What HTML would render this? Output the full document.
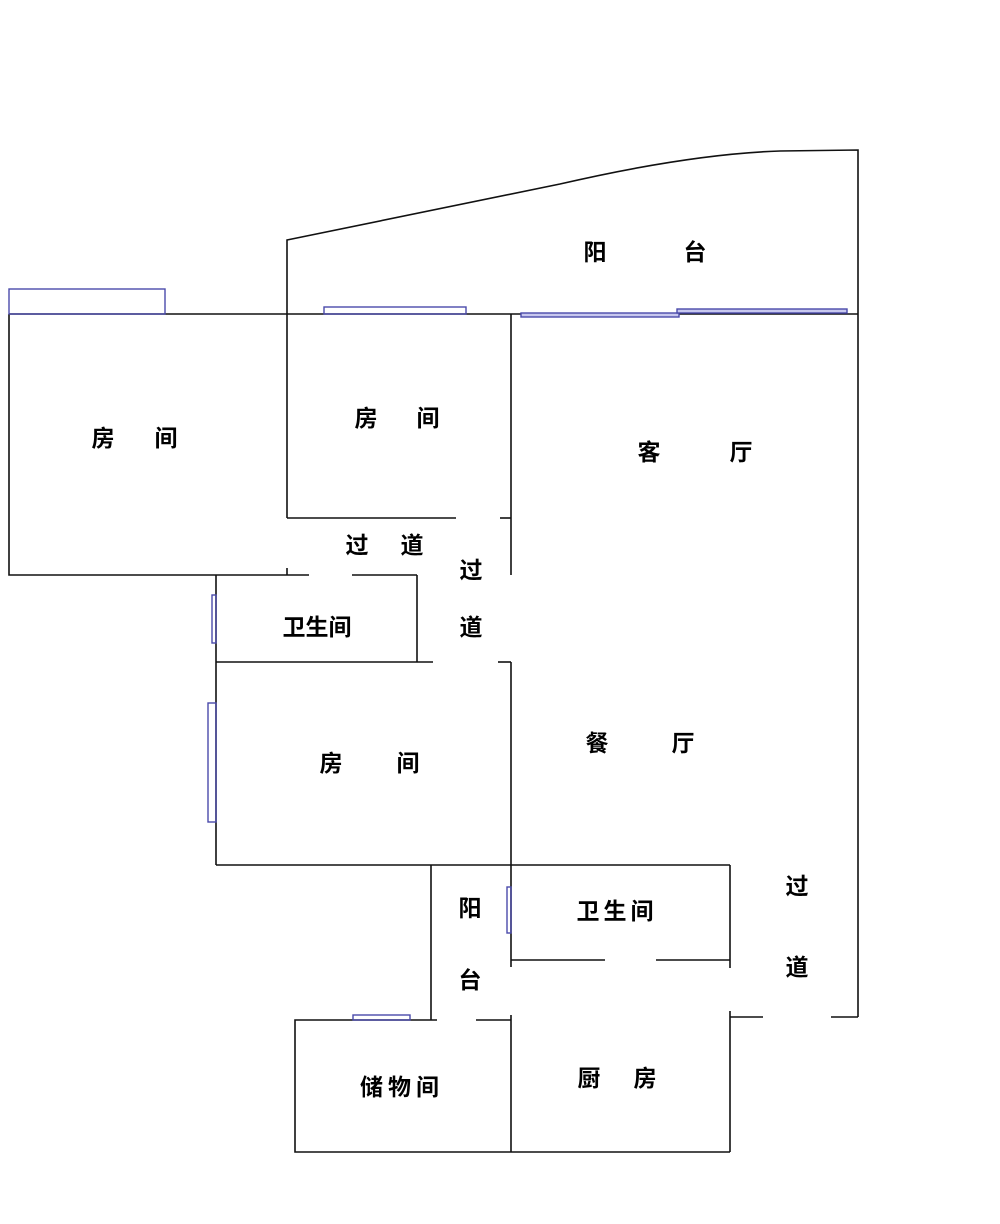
<!DOCTYPE html>
<html><head><meta charset="utf-8"><style>
html,body{margin:0;padding:0;background:#fff;}
svg{display:block}
text{font-family:"Liberation Sans","Noto Sans CJK SC",sans-serif;font-weight:bold;font-size:23px;fill:#000;text-anchor:middle;dominant-baseline:central}
</style></head><body>
<svg width="1000" height="1224" viewBox="0 0 1000 1224" xmlns="http://www.w3.org/2000/svg">
<g stroke="#111" stroke-width="1.6" fill="none">
<!-- top balcony -->
<path d="M287,314 L287,240 L560,184 Q690,154 780,151 L858,150 L858,1017"/>
<line x1="9" y1="314" x2="858" y2="314"/>
<!-- left room -->
<polyline points="9,314 9,575 309,575"/>
<line x1="287" y1="314" x2="287" y2="518"/>
<line x1="287" y1="568" x2="287" y2="575"/>
<!-- corridor -->
<line x1="287" y1="518" x2="456" y2="518"/>
<line x1="500" y1="518" x2="511" y2="518"/>
<line x1="511" y1="314" x2="511" y2="575"/>
<!-- bath 1 -->
<line x1="352" y1="575" x2="417" y2="575"/>
<line x1="216" y1="575" x2="216" y2="865"/>
<line x1="417" y1="575" x2="417" y2="662"/>
<line x1="216" y1="662" x2="433" y2="662"/>
<line x1="498" y1="662" x2="511" y2="662"/>
<line x1="511" y1="662" x2="511" y2="967"/>
<!-- room3 bottom -->
<line x1="216" y1="865" x2="730" y2="865"/>
<!-- small balcony -->
<line x1="431" y1="865" x2="431" y2="1020"/>
<!-- bath 2 -->
<line x1="730" y1="865" x2="730" y2="968"/>
<line x1="511" y1="960" x2="605" y2="960"/>
<line x1="656" y1="960" x2="730" y2="960"/>
<line x1="730" y1="1011" x2="730" y2="1152"/>
<line x1="730" y1="1017" x2="763" y2="1017"/>
<line x1="831" y1="1017" x2="858" y2="1017"/>
<!-- storage & kitchen -->
<line x1="511" y1="1015" x2="511" y2="1152"/>
<polyline points="437,1020 295,1020 295,1152 730,1152"/>
<line x1="476" y1="1020" x2="511" y2="1020"/>
</g>
<g stroke="#4a4aaa" stroke-width="1.4" fill="none">
<rect x="9" y="289" width="156" height="25"/>
<rect x="324" y="307" width="142" height="7"/>
<rect x="521" y="313" width="158" height="4" fill="#c8c8ee"/>
<rect x="677" y="309" width="170" height="4" fill="#c8c8ee"/>
<rect x="212" y="595" width="4" height="48"/>
<rect x="208" y="703" width="8" height="119"/>
<rect x="507" y="887" width="4" height="46"/>
<rect x="353" y="1015" width="57" height="5"/>
</g>
<text x="595" y="252">阳</text><text x="695" y="252">台</text>
<text x="103" y="438">房</text><text x="166" y="438">间</text>
<text x="366" y="418">房</text><text x="428" y="418">间</text>
<text x="649" y="452">客</text><text x="741" y="452">厅</text>
<text x="357" y="545">过</text><text x="412" y="545">道</text>
<text x="471" y="570">过</text><text x="471" y="627">道</text>
<text x="317" y="627">卫生间</text>
<text x="331" y="763">房</text><text x="408" y="763">间</text>
<text x="597" y="743">餐</text><text x="683" y="743">厅</text>
<text x="470" y="908">阳</text><text x="470" y="980">台</text>
<text x="617" y="911" style="letter-spacing:4px">卫生间</text>
<text x="797" y="886">过</text><text x="797" y="967">道</text>
<text x="402" y="1087" style="letter-spacing:5px">储物间</text>
<text x="589" y="1078">厨</text><text x="645" y="1078">房</text>
</svg>
</body></html>
